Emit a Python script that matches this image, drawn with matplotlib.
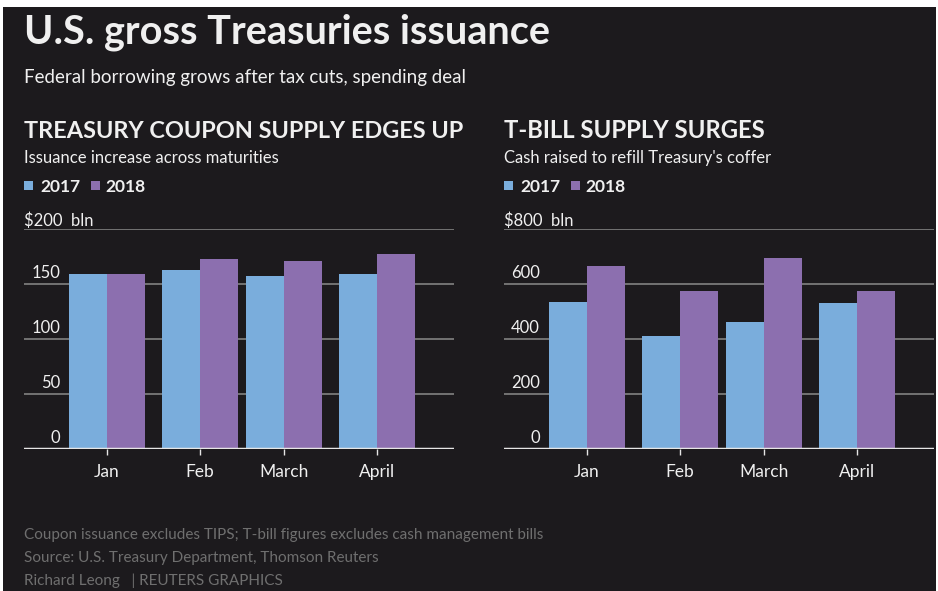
import matplotlib.pyplot as plt
import matplotlib.transforms as mtransforms
from matplotlib.patches import Rectangle
import numpy as np

plt.rcParams['font.family'] = ['Lato', 'DejaVu Sans']

# monthly gross issuance, $ billions
months = ["2018-01-01", "2018-02-01", "2018-03-01", "2018-04-01"]
month_labels = ["Jan", "Feb", "March", "April"]
years = ["2017", "2018"]
coupon_2017 = [159, 163, 157, 159]
coupon_2018 = [159, 173, 171, 177]
tbill_2017 = [536, 411, 463, 532]
tbill_2018 = [667, 573, 693, 576]

BG = "#1c1a1d"
C2017 = "#7aaddc"
C2018 = "#8c6faf"
TXT = "#f0f0f0"
GRID = "#7a7a7a"
FOOT = "#6f6f6f"

W, H = 938, 591
fig = plt.figure(figsize=(W / 100, H / 100), dpi=100)
fig.patch.set_facecolor("white")
fig.add_artist(Rectangle((3 / W, 0), 933 / W, 1 - 7 / H, transform=fig.transFigure,
                         facecolor=BG, edgecolor="none", zorder=-10))


def ftext(x, y, s, **kw):
    fig.text(x / W, 1 - y / H, s, **kw)


# day offsets of each month from Jan 1
days = (np.array(months, dtype="datetime64[D]") - np.datetime64(months[0])).astype(float)
bar_w = 12.8


def panel(x0, top_label, values_a, values_b, ymax, step, title, title_size, sub):
    ax = fig.add_axes([x0 / W, 1 - 449 / H, 430 / W, 220 / H])
    ax.set_facecolor("none")
    ax.bar(days - bar_w / 2, values_a, width=bar_w, color=C2017, zorder=3)
    ax.bar(days + bar_w / 2, values_b, width=bar_w, color=C2018, zorder=3)
    ax.set_xlim(-27.7, 115.7)
    ax.set_ylim(0, ymax)
    for s in ax.spines.values():
        s.set_visible(False)
    ax.set_yticks([])
    ticks = np.arange(0, ymax + 1, step)
    for t in ticks[1:]:
        ax.axhline(t, color=GRID, lw=1.3, zorder=1)
    ax.axhline(0, color="#e6e6e6", lw=2.5, zorder=4)
    tr = mtransforms.blended_transform_factory(ax.transAxes, ax.transData)
    for t in ticks[:-1]:
        ax.text(36 / 430, t + ymax * 0.012, f"{t:.0f}", transform=tr, ha="right",
                va="bottom", color=TXT, fontsize=12)
    ax.text(0, ymax, top_label, transform=tr, ha="left", va="bottom",
            color=TXT, fontsize=12)
    ax.set_xticks(days)
    ax.set_xticklabels(month_labels)
    ax.tick_params(axis="x", colors="#e6e6e6", length=4, width=1, pad=7,
                   labelsize=12.5, labelcolor=TXT)

    ftext(x0, 131, title, fontsize=title_size, fontweight="bold", color=TXT, va="center")
    ftext(x0, 158, sub, fontsize=12, color=TXT, va="center")
    for sx, tx, yr, c in [(x0, x0 + 16, years[0], C2017), (x0 + 67, x0 + 81, years[1], C2018)]:
        fig.add_artist(Rectangle((sx / W, 1 - 190 / H), 8.5 / W, 8.5 / H,
                                 transform=fig.transFigure, facecolor=c, edgecolor="none"))
        ftext(tx, 187, yr, fontsize=12.5, fontweight="bold", color=TXT, va="center")


ftext(24, 32, "U.S. gross Treasuries issuance", fontsize=28.5, fontweight="bold",
      color=TXT, va="center")
ftext(24, 77, "Federal borrowing grows after tax cuts, spending deal", fontsize=13.5,
      color=TXT, va="center")

panel(24, "$200  bln", coupon_2017, coupon_2018, 200, 50,
      "TREASURY COUPON SUPPLY EDGES UP", 16.9, "Issuance increase across maturities")
panel(504, "$800  bln", tbill_2017, tbill_2018, 800, 200,
      "T-BILL SUPPLY SURGES", 17.2, "Cash raised to refill Treasury's coffer")

ftext(24, 535, "Coupon issuance excludes TIPS; T-bill figures excludes cash management bills",
      fontsize=11, color=FOOT, va="center")
ftext(24, 558, "Source: U.S. Treasury Department, Thomson Reuters", fontsize=11,
      color=FOOT, va="center")
ftext(24, 581, "Richard Leong   | REUTERS GRAPHICS", fontsize=11, color=FOOT, va="center")

fig.savefig("out.png", dpi=100, facecolor=fig.get_facecolor())
